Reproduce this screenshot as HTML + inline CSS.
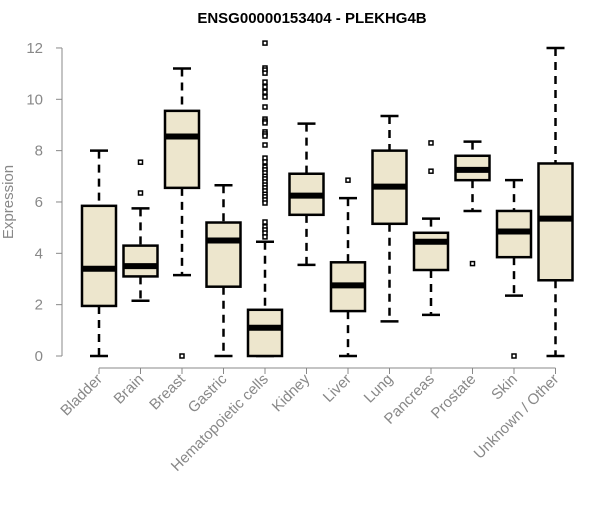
<!DOCTYPE html>
<html><head><meta charset="utf-8"><style>
body{margin:0;background:#fff}
svg{font-family:"Liberation Sans",Arial,sans-serif}
</style></head><body>
<svg id="chart" width="600" height="500" xmlns="http://www.w3.org/2000/svg">
<text x="312" y="23" text-anchor="middle" font-weight="bold" font-size="15">ENSG00000153404 - PLEKHG4B</text>
<text transform="translate(13,202) rotate(-90)" text-anchor="middle" font-size="15" fill="#888">Expression</text>
<g id="g"></g>
</svg>
<script>
const categories=["Bladder","Brain","Breast","Gastric","Hematopoietic cells","Kidney","Liver","Lung","Pancreas","Prostate","Skin","Unknown / Other"];
const mins=[0,2.15,3.15,0,0,3.55,0,1.35,1.6,5.65,2.35,0];
const q1s=[1.95,3.1,6.55,2.7,0,5.5,1.75,5.15,3.35,6.85,3.85,2.95];
const medians=[3.4,3.5,8.55,4.5,1.1,6.25,2.75,6.6,4.45,7.25,4.85,5.35];
const q3s=[5.85,4.3,9.55,5.2,1.8,7.1,3.65,8.0,4.8,7.8,5.65,7.5];
const maxs=[8.0,5.75,11.2,6.65,4.45,9.05,6.15,9.35,5.35,8.35,6.85,12.0];
const outliers=[[],[6.35,7.55],[0],[],[12.19,11.22,11.14,11.02,10.67,10.48,10.28,10.09,9.7,9.23,9.15,9.08,8.73,8.65,8.57,8.22,7.71,7.56,7.36,7.25,7.13,7.0,6.9,6.78,6.66,6.55,6.43,6.3,6.2,6.08,5.96,5.22,5.03,4.91,4.79,4.64],[],[6.85],[],[7.2,8.3],[3.6],[0],[]];
const yTicks=[0,2,4,6,8,10,12];
const NS="http://www.w3.org/2000/svg";
const g=document.getElementById('g');
const y=v=>356-v*25.67;
const x=i=>99+i*41.5;
const bw=34;
function mk(t,a,p){const e=document.createElementNS(NS,t);for(const k in a)e.setAttribute(k,a[k]);(p||g).appendChild(e);return e;}
// y axis
let ax=mk('line',{x1:62,x2:62,y1:y(0),y2:y(12),stroke:'#888'});


yTicks.forEach(t=>{
 const l=mk('line',{x1:56,x2:62,y1:y(t),y2:y(t),stroke:'#888'});
 
 
 const tx=mk('text',{x:43,y:y(t)+5,'text-anchor':'end','font-size':15,fill:'#888'});
 tx.textContent=t;
 
 
});
let xa=mk('line',{x1:x(0),x2:x(categories.length-1),y1:368,y2:368,stroke:'#888'});


categories.forEach((c,i)=>{
 const cx=x(i);
 const tk=mk('line',{x1:cx,x2:cx,y1:368,y2:374,stroke:'#888'});
 
 
 const lb=mk('text',{x:cx+4,y:380,'text-anchor':'end','font-size':15,fill:'#888',transform:`rotate(-45 ${cx+4} 380)`});
 lb.textContent=c;
 
 
 const bg=mk('g',{});
 
 
 mk('line',{x1:cx,x2:cx,y1:y(maxs[i]),y2:y(q3s[i]),stroke:'#000','stroke-width':2.5,'stroke-dasharray':'8,6'},bg);
 mk('line',{x1:cx,x2:cx,y1:y(q1s[i]),y2:y(mins[i]),stroke:'#000','stroke-width':2.5,'stroke-dasharray':'8,6'},bg);
 mk('line',{x1:cx-9,x2:cx+9,y1:y(maxs[i]),y2:y(maxs[i]),stroke:'#000','stroke-width':2.5},bg);
 mk('line',{x1:cx-9,x2:cx+9,y1:y(mins[i]),y2:y(mins[i]),stroke:'#000','stroke-width':2.5},bg);
 mk('rect',{x:cx-bw/2,y:y(q3s[i]),width:bw,height:Math.max(0,y(q1s[i])-y(q3s[i])),fill:'#ede6cd',stroke:'#000','stroke-width':2.5},bg);
 mk('line',{x1:cx-bw/2,x2:cx+bw/2,y1:y(medians[i]),y2:y(medians[i]),stroke:'#000','stroke-width':6},bg);
 outliers[i].forEach(v=>{
  const o=mk('rect',{x:cx-2,y:y(v)-2,width:4,height:4,fill:'#fff',stroke:'#000','stroke-width':1.5},bg);
  
  
 });
});
</script>
</body></html>
